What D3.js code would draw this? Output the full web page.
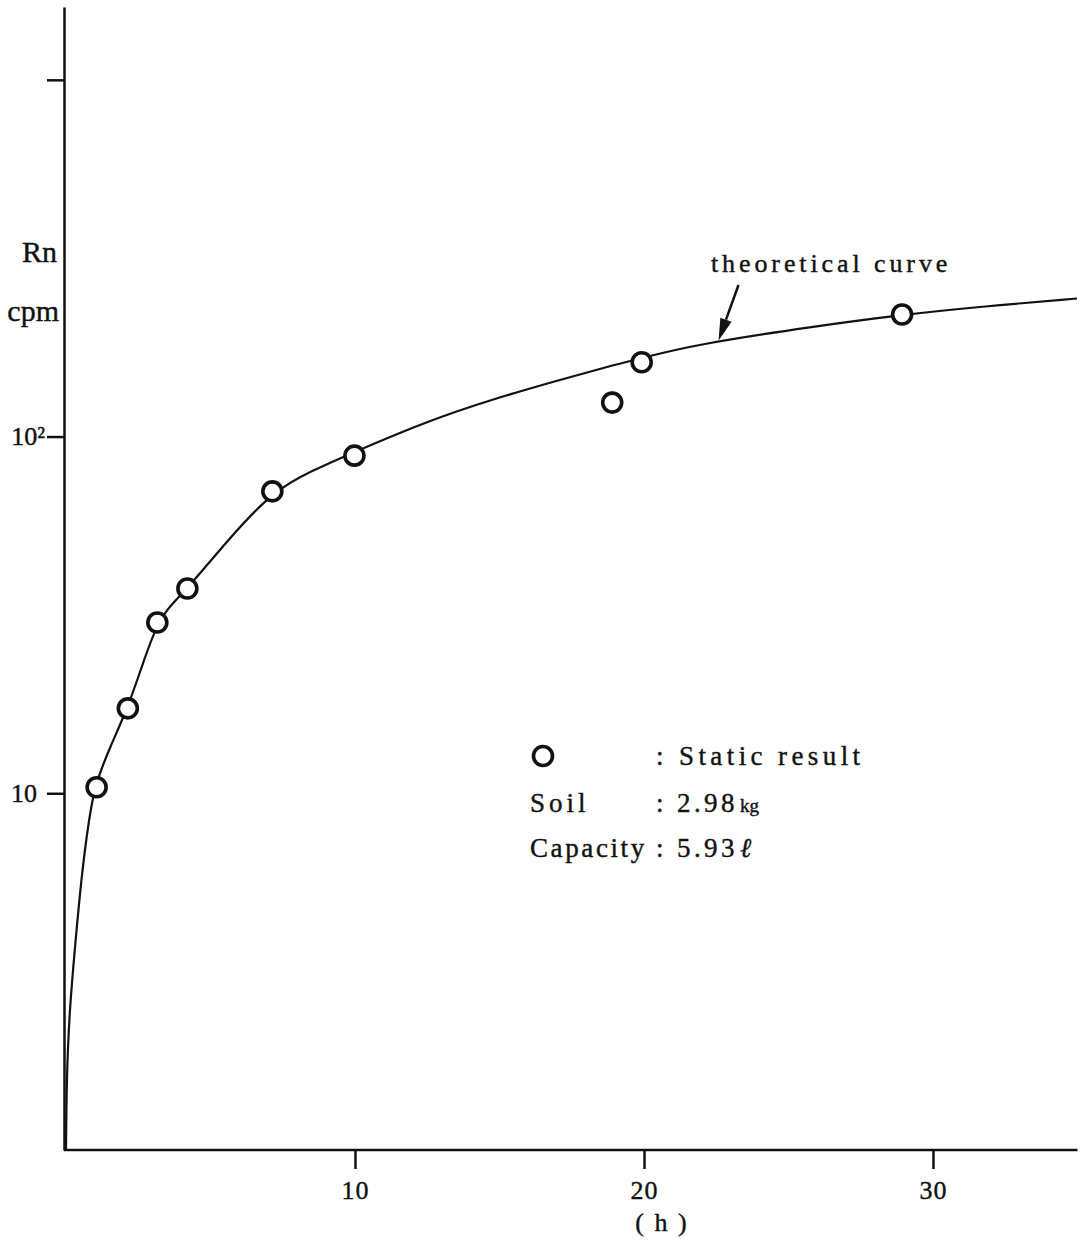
<!DOCTYPE html>
<html>
<head>
<meta charset="utf-8">
<script src="https://cdn.jsdelivr.net/npm/d3@7"></script>
<style>
  body { margin: 0; background: #fff; }
  text { font-family: 'Liberation Serif', 'Times New Roman', serif; fill: #111; stroke: #111; stroke-width: 0.4px; }
</style>
</head>
<body>
<div class="canvas"></div>
<script>
const width = 1088;
const height = 1244;

// static result (h, cpm)
const hours = [1.06, 2.14, 3.16, 4.2, 7.14, 9.98, 18.9, 19.92, 28.93];
const rnCpm = [10.4, 17.3, 30.1, 37.5, 70.2, 88.4, 124.5, 161.6, 219.8];

// theoretical curve
const curveHours = [0, 0.021, 0.114, 0.311, 0.554, 0.889, 1.118, 1.522, 2.135, 2.619, 3.159, 3.657, 4.197,
  5.561, 7.135, 8.557, 9.976, 12.481, 14.785, 17.093, 18.824, 19.92, 21.706, 25.917, 28.99, 31.72, 34.98];
const curveCpm = [1.0, 1.57, 2.42, 3.71, 6.1, 9.58, 11.11, 13.49, 17.31, 22.64, 30.08, 33.94, 37.46,
  50.8, 70.2, 80.6, 90.5, 110.3, 127.5, 144.1, 157.8, 165.8, 180.7, 203.8, 219.8, 231.5, 243.8];

const xTicks = [10, 20, 30];
const yTicks = [10, 100, 1000];
const yTickLabels = ['10', '10\u00b2', ''];

const canvas = d3
  .select('.canvas')
  .append('svg')
  .attr('width', width)
  .attr('height', height);

canvas.append('rect').attr('width', width).attr('height', height).attr('fill', '#fff');

const xScale = d3.scaleLinear().domain([0, 35]).range([66, 1077.5]);
const yScale = d3.scaleLog().domain([1, 1600]).range([1150, 7]);

const xAxis = d3
  .axisBottom(xScale)
  .tickValues(xTicks)
  .tickSize(19)
  .tickSizeOuter(0)
  .tickPadding(12)
  .tickFormat(d3.format('d'));

const yAxis = d3
  .axisLeft(yScale)
  .tickValues(yTicks)
  .tickSize(17)
  .tickSizeOuter(0)
  .tickFormat((d, i) => yTickLabels[i]);

const xAxisG = canvas
  .append('g')
  .attr('id', 'xAxisG')
  .attr('transform', 'translate(0,1150)')
  .call(xAxis);

// the domain line starts at the y axis
xAxisG.select('path.domain').attr('d', `M64,0H${xScale(35)}`);

const yAxisG = canvas
  .append('g')
  .attr('id', 'yAxisG')
  .attr('transform', 'translate(64,0)')
  .call(yAxis);

[xAxisG, yAxisG].forEach((g) => {
  g.selectAll('path, line').attr('stroke', '#111').attr('stroke-width', 2.5);
  g.selectAll('text')
    .style('font-family', "'Liberation Serif', serif")
    .style('font-size', '26px')
    .attr('fill', '#111');
});
xAxisG.selectAll('text').attr('letter-spacing', 1);
yAxisG.selectAll('.tick text').attr('x', (d) => (d === 100 ? -19 : -27));

// theoretical curve
const line = d3
  .line()
  .x((d) => xScale(d[0]))
  .y((d) => yScale(d[1]))
  .curve(d3.curveBasis);

canvas
  .append('path')
  .datum(d3.zip(curveHours, curveCpm))
  .attr('d', line)
  .attr('fill', 'none')
  .attr('stroke', '#111')
  .attr('stroke-width', 2.2);

// measured points
canvas
  .selectAll('circle.obs')
  .data(d3.zip(hours, rnCpm))
  .enter()
  .append('circle')
  .attr('class', 'obs')
  .attr('cx', (d) => xScale(d[0]))
  .attr('cy', (d) => yScale(d[1]))
  .attr('r', 9.5)
  .attr('fill', '#fff')
  .attr('stroke', '#111')
  .attr('stroke-width', 3.6);

// axis titles
canvas.append('text').attr('x', 57).attr('y', 262).attr('text-anchor', 'end')
  .style('font-size', '30px').text('Rn');
canvas.append('text').attr('x', 59).attr('y', 321).attr('text-anchor', 'end')
  .style('font-size', '30px').text('cpm');
canvas.append('text').attr('x', 662).attr('y', 1231).attr('text-anchor', 'middle')
  .style('font-size', '26px').attr('letter-spacing', 2).text('( h )');

// arrow to the curve
const tip = [xScale(22.58), yScale(186)];
const tail = [xScale(23.27), yScale(266)];
const ang = Math.atan2(tip[1] - tail[1], tip[0] - tail[0]);
const headLen = 22;
const headW = 6;
const base = [tip[0] - headLen * Math.cos(ang), tip[1] - headLen * Math.sin(ang)];
canvas.append('line')
  .attr('x1', tail[0]).attr('y1', tail[1])
  .attr('x2', base[0]).attr('y2', base[1])
  .attr('stroke', '#111').attr('stroke-width', 2.5);
canvas.append('path')
  .attr('d', d3.line()([
    tip,
    [base[0] + headW * Math.sin(ang), base[1] - headW * Math.cos(ang)],
    [base[0] - headW * Math.sin(ang), base[1] + headW * Math.cos(ang)]
  ]) + 'Z')
  .attr('fill', '#111');

canvas.append('text').attr('x', 711).attr('y', 272)
  .style('font-size', '26px').attr('letter-spacing', 3.9).text('theoretical curve');

// legend
const legend = canvas.append('g').style('font-size', '27px');
legend.append('circle').attr('cx', 543).attr('cy', 756).attr('r', 9.5)
  .attr('fill', '#fff').attr('stroke', '#111').attr('stroke-width', 3.6);
legend.append('text').attr('x', 656).attr('y', 765).attr('letter-spacing', 4.4).text(': Static result');
legend.append('text').attr('x', 530).attr('y', 812).attr('letter-spacing', 4).text('Soil');
legend.append('text').attr('x', 656).attr('y', 812).attr('letter-spacing', 3.4)
  .text(': 2.98')
  .append('tspan').style('font-size', '19px').attr('dx', 2).attr('letter-spacing', 0).text('kg');
legend.append('text').attr('x', 530).attr('y', 857).attr('letter-spacing', 2.6).text('Capacity');
legend.append('text').attr('x', 656).attr('y', 857).attr('letter-spacing', 3.4)
  .text(': 5.93')
  .append('tspan').attr('dx', 2).style('font-style', 'italic').text('\u2113');
</script>
</body>
</html>
